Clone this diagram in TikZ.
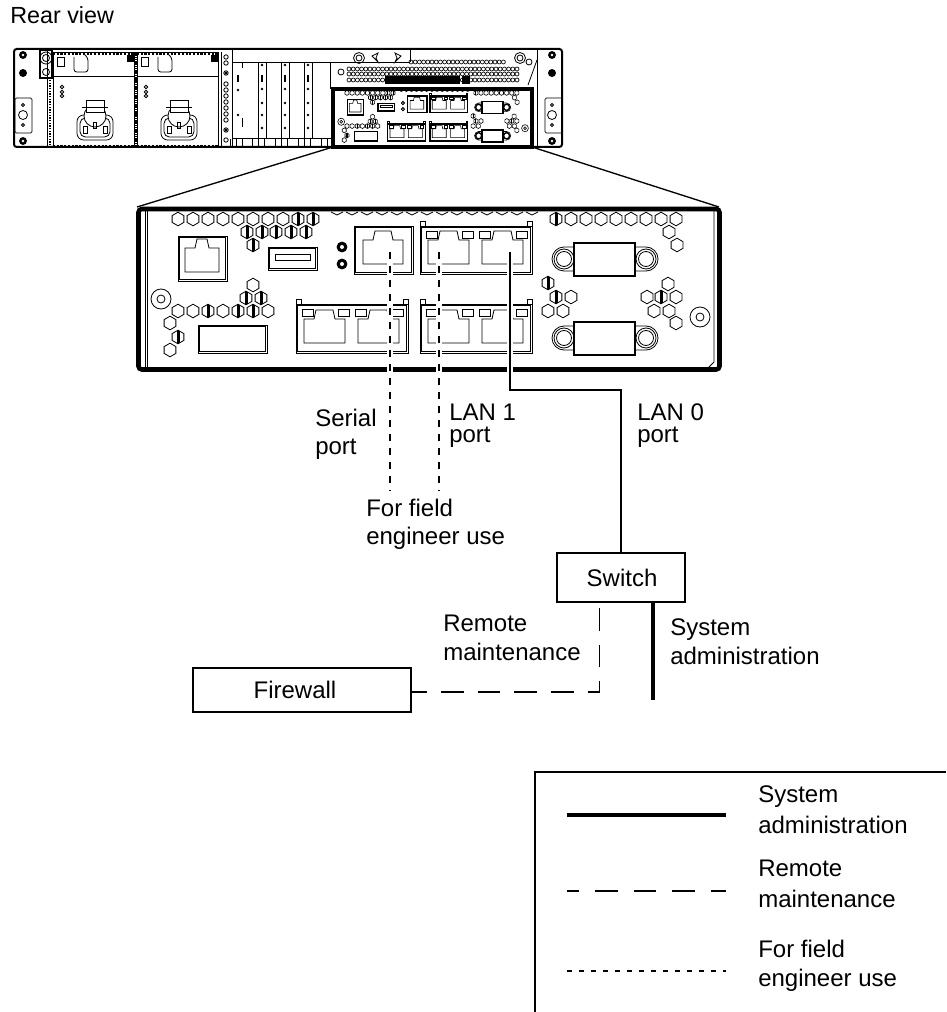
\documentclass[tikz,border=0pt]{standalone}
\usepackage{fontspec}
\setmainfont{Liberation Sans}
\usetikzlibrary{positioning}

\newcommand{\plw}{.6pt}
\tikzset{
  lbl/.style={font=\fontsize{18}{#1}\selectfont,align=left,inner sep=0pt,anchor=west},
  lbl/.default=21,
  unit/.style={draw,line width=1.5pt,font=\fontsize{18}{21}\selectfont,inner sep=0pt},
  part/.style={draw,line width=\plw},
  frameline/.style={draw,line width=3.4pt,rounded corners=2.5},
  adminline/.style={line width=3pt},
  portline/.style={line width=1.5pt},
  remoteline/.style={line width=1.25pt,dash pattern=on 17pt off 12pt,dash phase=8pt},
  fieldline/.style={line width=1.5pt,dash pattern=on 5.25pt off 5.25pt},
  halo/.style={line width=5pt,white}
}
\newcommand{\hexnut}[2]{\draw[part] (#1,#2) ++(90:6.8) -- ++(-30:6.8) -- ++(-90:6.8) -- ++(-150:6.8) -- ++(150:6.8) -- ++(90:6.8) -- cycle;}
\newcommand{\hexdark}[2]{\hexnut{#1}{#2}\fill (#1-1.5,#2-6) rectangle (#1+1.5,#2+6);}
\newcommand{\dblbox}[4]{\draw[part] (#1,#2) rectangle (#3,#4) (#1+1.5,#2+1.5) rectangle (#3-1.5,#4-1.5);}
\newcommand{\jackshape}[3]{\draw[part] (#1,#2) -- ++(0,-24) -- ++(10,0) -- ++(2,-9) -- ++(#3-24,0) -- ++(2,9) -- ++(10,0) -- ++(0,24) -- cycle;}
\newcommand{\dualjack}[3]{%
  \dblbox{#1}{#2}{#1+112}{#3}
  \draw[part] (#1,#2) -- ++(0,-5) -- ++(5,0) -- ++(0,5) (#1+112,#2) -- ++(0,-5) -- ++(-5,0) -- ++(0,5);
  \draw[line width=1.3pt,dash pattern=on 1.5pt off .6pt] (#1+6,#2+1) -- ++(100,0);
  \jackshape{#1+8}{#3-10}{41}
  \jackshape{#1+62}{#3-10}{41}
  \foreach \ledx in {6,42,59,96}
    \draw[part,fill=white] (#1+\ledx,#2+5) rectangle ++(11,7);
}
\newcommand{\paneldetail}{%
  \foreach \hx in {178,193,...,283} {\hexnut{\hx}{219}}
  \foreach \hx in {298,313} {\hexdark{\hx}{219}}
  \foreach \hx in {247,262,276,291,306} {\hexdark{\hx}{232}}
  \hexdark{253}{245}
  \foreach \hx in {337,352,...,532} {\draw[part] (\hx-6,212) -- (\hx,215) -- (\hx+6,212);}
  \dblbox{178}{236}{227}{281}
  \jackshape{185}{272}{34}
  \dblbox{268}{247}{317}{270}
  \draw[part] (275,254) rectangle (310,260);
  \foreach \hy in {247,264} {\filldraw[part,fill=black] (342,\hy) circle (5); \fill[white] (342,\hy) circle (2);}
  \dblbox{354}{226}{413}{274}
  \jackshape{363}{264}{40}
  \dualjack{296}{304}{353}
  \dualjack{420}{226}{274}
  \dualjack{420}{304}{353}
  \dblbox{198}{325}{267}{353}
  \draw[part] (161,299) circle (10) (161,299) circle (4);
  \foreach \hx in {178,193,223,268} {\hexnut{\hx}{311}}
  \foreach \hx in {208,238,253} {\hexdark{\hx}{311}}
  \hexnut{253}{285}
  \hexdark{246}{298} \hexdark{261}{298}
  \hexnut{170}{323} \hexdark{178}{337} \hexnut{170}{350}
  \foreach \hx in {571,586,...,676} {\hexnut{\hx}{219}}
  \hexdark{556}{219}
  \hexnut{669}{232} \hexnut{677}{245}
  \hexdark{548}{283} \hexdark{556}{297} \hexnut{571}{297}
  \hexnut{548}{311} \hexnut{563}{311}
  \hexnut{668}{284} \hexnut{647}{297} \hexdark{661}{297} \hexnut{676}{297}
  \hexnut{654}{311} \hexnut{669}{311} \hexnut{676}{323}
  \draw[part] (700,317) circle (10) (700,317) circle (4);
  \foreach \dy in {259,338} {
    \draw[part] (574,\dy-12) -- (564,\dy-12) arc (-90:-270:12) -- (574,\dy+12)
      (635,\dy-12) -- (646,\dy-12) arc (-90:90:12) -- (635,\dy+12);
    \draw[part] (564,\dy) circle (10) (564,\dy) circle (7.5);
    \draw[part] (646,\dy) circle (10) (646,\dy) circle (7.5);
    \draw[part,line width=1.2pt] (574,\dy-16) rectangle (635,\dy+17);
  }
}

\begin{document}
\begin{tikzpicture}[x=.75pt,y=-.75pt]
  \useasboundingbox (0,0) rectangle (946,1012);

  \node[lbl,font=\fontsize{17.5}{21}\selectfont] (rear) at (10,15) {Rear view};

  % rear of the chassis
  \draw[line width=1.5pt,rounded corners=2] (14,49) rectangle (562,147);
  \draw[part] (47,49) -- (47,147) (537,49) -- (537,147);
  \draw[part,rounded corners=1] (15,98) rectangle (32,133);
  \draw[part,rounded corners=1] (562,98) -- (545,98) -- (545,133) -- (562,133);
  \foreach \earx/\platex in {23/23,552/552} {
    \filldraw[part,fill=black] (\earx,55) circle (3.5);
    \fill[white] (\earx,55) circle (1.3);
    \fill (\earx,73) circle (4);
    \filldraw[part,fill=black] (\earx,141) circle (3.5);
    \fill[white] (\earx,141) circle (1.3);
    \draw[part] (\platex,115) circle (4.5) (\platex,105) circle (1.5) (\platex,125) circle (1.5);
  }
  \draw[part,line width=1pt] (40,50) rectangle (52,78);
  \draw[part] (46,58) circle (6) (46,58) circle (3.5) (46,72) circle (3.5);
  \draw[line width=1.6pt,dash pattern=on 1pt off 1pt] (50,80) -- (50,146);

  % power supplies
  \draw[line width=3pt,dash pattern=on 1.2pt off .5pt] (136,52) -- (136,146);
  \foreach \psux in {53,137} {
    \begin{scope}[shift={(\psux,0)}]
      \draw[part] (0,52) rectangle (81,146);
      \draw[line width=1.2pt,dash pattern=on 1.6pt off 1.2pt] (0,54) -- (81,54);
      \draw[line width=1.2pt,dash pattern=on 1.6pt off 1.2pt] (0,146) -- (81,146);
      \draw[part] (0,76) -- (81,76);
      \draw[part] (4,57) rectangle (11,66);
      \draw[part,rounded corners=2] (21,57) -- (21,72) -- (35,72) -- (35,58) -- (32,55);
      \fill (74,55) rectangle (81,62);
      \foreach \dotty in {87,92,96} {\draw[part] (9,\dotty) circle (1.7);}
      \draw[part,rounded corners=5] (24,115) rectangle (60,140);
      \draw[part,rounded corners=4] (27,118) rectangle (57,137);
      \draw[part,fill=white] (42,116) circle (11);
      \draw[part,fill=white] (33,100) rectangle (51,112);
      \draw[part] (29,107) -- (55,107);
      \draw[part] (30,126) rectangle (34,133) (50,126) rectangle (54,133) (40,122) rectangle (43,128);
    \end{scope}
  }

  % slot covers
  \draw[part] (221,52) -- (221,146) (232,49) -- (232,146);
  \foreach \cy in {57,63,73,84,90,96,102,108,114,120,130,140} {\draw[part] (226,\cy) circle (2.2);}
  \draw[part] (226,73) circle (1);
  \draw[part] (226,130) circle (1);
  \draw[part] (232,62) -- (410,62);
  \draw[part] (410,49) -- (410,62);
  \draw[part] (232,138) -- (333,138);
  \foreach \sx in {258,281,304} {
    \draw[part] (\sx,62) -- (\sx,138) (\sx+8,62) -- (\sx+8,138);
    \foreach \cy in {65,89,103,115,128} {\fill (\sx+4,\cy) circle (1.4);}
    \draw[line width=1pt] (\sx+4,75) -- (\sx+4,82);
  }
  \draw[line width=1pt] (238,75) -- (238,82);
  \foreach \cy in {90,115} {\fill (238,\cy) circle (1.4);}
  \draw[part] (242,62) -- (242,68) (242,118) -- (242,127);
  \draw[part] (330,62) -- (330,89);
  \foreach \sx in {242,264,287,310,333} {\foreach \cx in {0,-6,-12} {\draw[part] (\sx+\cx,146) -- (\sx+\cx,139);}}

  % top grille
  \draw[part] (359,58) circle (5.5) (359,58) circle (3);
  \draw[part] (520,58) circle (5.5) (520,58) circle (3);
  \draw[part] (341,72) circle (3) (529,62) circle (3);
  \draw[part] (372,56) -- (378,53) -- (376,58) -- (378,62) -- cycle;
  \draw[part] (401,56) -- (395,53) -- (397,58) -- (395,62) -- cycle;
  \foreach \gx in {0,...,22} {\draw[part,line width=.5pt] (411+4.2*\gx,62) circle (2);}
  \foreach \gy in {69,74,80} {
    \foreach \gx in {0,...,40} {\draw[part,line width=.5pt] (349+4.2*\gx,\gy) circle (2);}
  }
  \fill (385,76) rectangle (460,84);
  \fill (462,76) rectangle (470,84);
  \draw[part] (537,60) -- (528,85);
  \begin{scope}[shift={(286.3,14.1)},xscale=.341,yscale=.36]
    \renewcommand{\plw}{.45pt}
    \paneldetail
  \end{scope}
  \draw[line width=3.2pt] (333,89) rectangle (532,147);

  % zoom lines
  \coordinate (miniL) at (333,147);
  \coordinate (miniR) at (532,147);
  \coordinate (panelL) at (137,207);
  \coordinate (panelR) at (719,207);
  \draw[line width=1pt] (miniL) -- (panelL);
  \draw[line width=1pt] (miniR) -- (panelR);

  % enlarged panel
  \paneldetail
  \draw[part] (145,209) -- (145,369) (147,209) -- (147,369);
  \draw[part] (714,209) -- (714,362) -- (707,369);
  \draw[frameline] (138.5,209) rectangle (719.5,369.5);

  % cables
  \node[unit,minimum width=128*.75pt,minimum height=49*.75pt] (switch) at (621,577.5) {\kern1.5pt Switch};
  \node[unit,minimum width=218*.75pt,minimum height=44*.75pt] (firewall) at (302,690) {Firewall\kern10.5pt\relax};
  \coordinate (serial) at (390,252);
  \coordinate (serialend) at (390,491);
  \coordinate (lan1) at (439,252);
  \coordinate (lan1end) at (439,491);
  \coordinate (lan0) at (510,252);
  \coordinate (lan0bend) at (621,390);
  \coordinate (adminend) at (653,700);
  \coordinate (remotebend) at (599.5,692);

  \draw[halo] (serial) -- (serial |- 0,378);
  \draw[halo] (lan1) -- (lan1 |- 0,378);
  \draw[halo] (lan0) -- (lan0 |- 0,378);
  \draw[fieldline] (serial) -- (serialend);
  \draw[fieldline] (lan1) -- (lan1end);
  \draw[portline] (lan0) |- (lan0bend) -- (switch.north);
  \draw[adminline] (adminend |- switch.south) -- (adminend);
  \draw[remoteline,dash pattern=on 17pt off 10.5pt,dash phase=5.8pt] (firewall.east |- remotebend) -- (remotebend) -- (remotebend |- switch.south);

  % labels
  \node[lbl=21] (seriallbl) at (315,434.75) {Serial\\port};
  \node[lbl=16.5] (lan1lbl) at (449,425.75) {LAN 1\\port};
  \node[lbl=16.5] (lan0lbl) at (637,425.75) {LAN 0\\port};
  \node[lbl=21] (fieldlbl) at (366,524.75) {For field\\engineer use};
  \node[lbl=21.75] (remotelbl) at (443,637.75) {Remote\\maintenance};
  \node[lbl=21.75] (adminlbl) at (670,641.75) {System\\administration};

  % legend
  \coordinate (legendtl) at (535,772);
  \coordinate (legendr) at (946,772);
  \coordinate (legendb) at (535,1012);
  \draw[line width=1.5pt] (legendb) -- (legendtl) -- (legendr);
  \coordinate (keyA) at (567,815);
  \coordinate (keyB) at (567,891);
  \coordinate (keyC) at (567,971);
  \draw[adminline] (keyA) -- ++(159,0);
  \draw[remoteline] (keyB) -- ++(159,0);
  \draw[line width=1.25pt,dash pattern=on 3.5pt off 5.5pt] (keyC) -- ++(159,0);
  \node[lbl=23.25] (keyAlbl) at (758,809.75) {System\\administration};
  \node[lbl=23.25] (keyBlbl) at (758,883.75) {Remote\\maintenance};
  \node[lbl=21.75] (keyClbl) at (758,966.25) {For field\\engineer use};
\end{tikzpicture}
\end{document}
